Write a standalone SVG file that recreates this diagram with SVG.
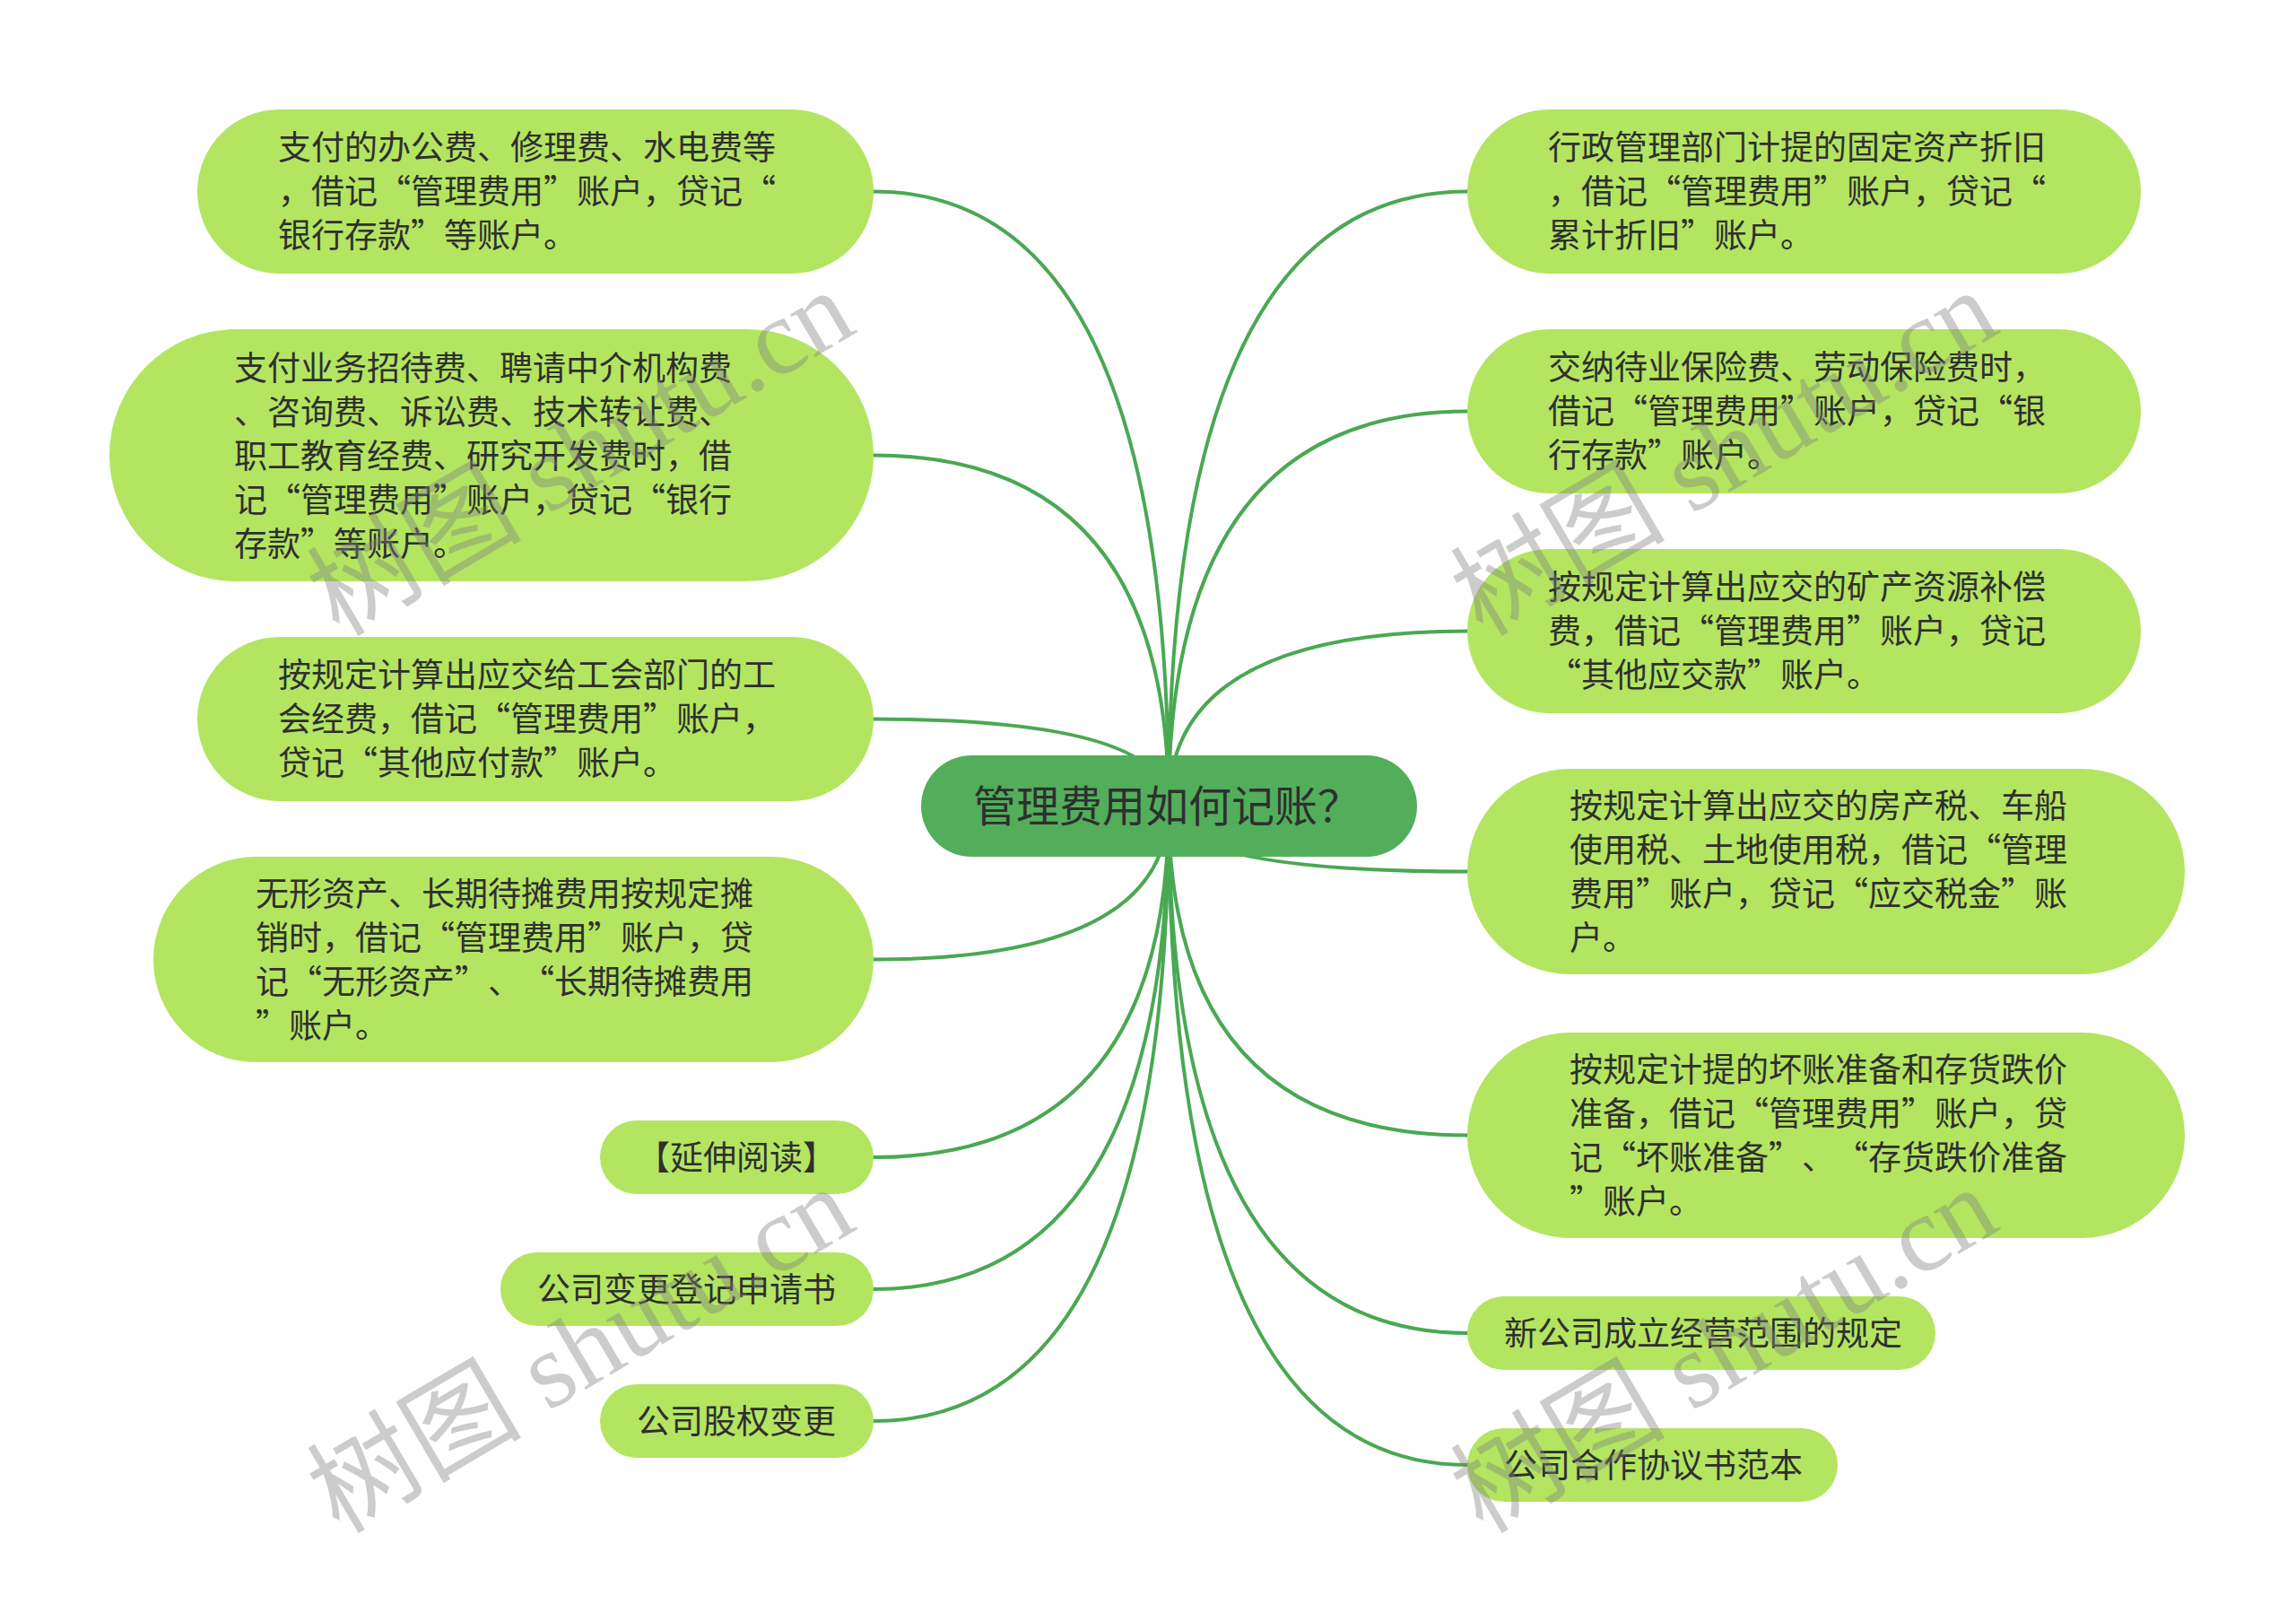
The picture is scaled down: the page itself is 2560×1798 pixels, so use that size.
<svg xmlns="http://www.w3.org/2000/svg" width="2560" height="1798" viewBox="0 0 2560 1798">
<style>
.bg{fill:#ffffff}
.link{fill:none;stroke:#4aa853;stroke-width:4;stroke-linecap:round}
.leaf{fill:#b3e561}
.root{fill:#52ae5b}
.t{font-family:"Noto Sans CJK SC","Noto Sans",sans-serif;font-size:37px;fill:#2f2f2f;text-spacing-trim:space-all;font-feature-settings:"halt" 0,"chws" 0}
.rt{font-family:"Noto Sans CJK SC","Noto Sans",sans-serif;font-size:48px;fill:#2f2f2f}
.wm{font-family:"Liberation Serif","Noto Sans CJK SC",serif;font-size:120px;fill:#808080;fill-opacity:0.4}
</style>
<rect class="bg" x="0" y="0" width="2560" height="1798"/>
<g id="connectors">
<path class="link" d="M1303 898 Q1303 213.5 974 213.5"/>
<path class="link" d="M1303 898 Q1303 507.5 974 507.5"/>
<path class="link" d="M1303 898 Q1303 801.5 974 801.5"/>
<path class="link" d="M1303 898 Q1303 1069.5 974 1069.5"/>
<path class="link" d="M1303 898 Q1303 1290 974 1290"/>
<path class="link" d="M1303 898 Q1303 1437 974 1437"/>
<path class="link" d="M1303 898 Q1303 1584 974 1584"/>
<path class="link" d="M1303 898 Q1303 213.5 1636 213.5"/>
<path class="link" d="M1303 898 Q1303 458.5 1636 458.5"/>
<path class="link" d="M1303 898 Q1303 703.5 1636 703.5"/>
<path class="link" d="M1303 898 Q1303 971.5 1636 971.5"/>
<path class="link" d="M1303 898 Q1303 1265.5 1636 1265.5"/>
<path class="link" d="M1303 898 Q1303 1486 1636 1486"/>
<path class="link" d="M1303 898 Q1303 1633 1636 1633"/>
</g>
<g id="root">
<rect class="root" x="1027" y="842" width="553" height="113" rx="56.5"/>
<text class="rt" x="1085" y="915.5">管理费用如何记账？</text>
</g>
<g id="L1">
<rect class="leaf" x="220" y="122" width="754" height="183" rx="91.5"/>
<text class="t"><tspan x="310" y="178">支付的办公费、修理费、水电费等</tspan><tspan x="310" y="227">，借记“管理费用”账户，贷记“</tspan><tspan x="310" y="276">银行存款”等账户。</tspan></text>
</g>
<g id="L2">
<rect class="leaf" x="122" y="367" width="852" height="281" rx="140.5"/>
<text class="t"><tspan x="261" y="423.5">支付业务招待费、聘请中介机构费</tspan><tspan x="261" y="472.5">、咨询费、诉讼费、技术转让费、</tspan><tspan x="261" y="521.5">职工教育经费、研究开发费时，借</tspan><tspan x="261" y="570.5">记“管理费用”账户，贷记“银行</tspan><tspan x="261" y="619.5">存款”等账户。</tspan></text>
</g>
<g id="L3">
<rect class="leaf" x="220" y="710" width="754" height="183" rx="91.5"/>
<text class="t"><tspan x="310" y="766">按规定计算出应交给工会部门的工</tspan><tspan x="310" y="815">会经费，借记“管理费用”账户，</tspan><tspan x="310" y="864">贷记“其他应付款”账户。</tspan></text>
</g>
<g id="L4">
<rect class="leaf" x="171" y="955" width="803" height="229" rx="114.5"/>
<text class="t"><tspan x="285" y="1010">无形资产、长期待摊费用按规定摊</tspan><tspan x="285" y="1059">销时，借记“管理费用”账户，贷</tspan><tspan x="285" y="1108">记“无形资产”、“长期待摊费用</tspan><tspan x="285" y="1157">”账户。</tspan></text>
</g>
<g id="L5">
<rect class="leaf" x="669" y="1249" width="305" height="82" rx="41"/>
<text class="t" x="710" y="1304">【延伸阅读】</text>
</g>
<g id="L6">
<rect class="leaf" x="558" y="1396" width="416" height="82" rx="41"/>
<text class="t" x="599" y="1451">公司变更登记申请书</text>
</g>
<g id="L7">
<rect class="leaf" x="669" y="1543" width="305" height="82" rx="41"/>
<text class="t" x="710" y="1598">公司股权变更</text>
</g>
<g id="R1">
<rect class="leaf" x="1636" y="122" width="751" height="183" rx="91.5"/>
<text class="t"><tspan x="1726" y="178">行政管理部门计提的固定资产折旧</tspan><tspan x="1726" y="227">，借记“管理费用”账户，贷记“</tspan><tspan x="1726" y="276">累计折旧”账户。</tspan></text>
</g>
<g id="R2">
<rect class="leaf" x="1636" y="367" width="751" height="183" rx="91.5"/>
<text class="t"><tspan x="1726" y="423">交纳待业保险费、劳动保险费时，</tspan><tspan x="1726" y="472">借记“管理费用”账户，贷记“银</tspan><tspan x="1726" y="521">行存款”账户。</tspan></text>
</g>
<g id="R3">
<rect class="leaf" x="1636" y="612" width="751" height="183" rx="91.5"/>
<text class="t"><tspan x="1726" y="668">按规定计算出应交的矿产资源补偿</tspan><tspan x="1726" y="717">费，借记“管理费用”账户，贷记</tspan><tspan x="1726" y="766">“其他应交款”账户。</tspan></text>
</g>
<g id="R4">
<rect class="leaf" x="1636" y="857" width="800" height="229" rx="114.5"/>
<text class="t"><tspan x="1750" y="912">按规定计算出应交的房产税、车船</tspan><tspan x="1750" y="961">使用税、土地使用税，借记“管理</tspan><tspan x="1750" y="1010">费用”账户，贷记“应交税金”账</tspan><tspan x="1750" y="1059">户。</tspan></text>
</g>
<g id="R5">
<rect class="leaf" x="1636" y="1151" width="800" height="229" rx="114.5"/>
<text class="t"><tspan x="1750" y="1206">按规定计提的坏账准备和存货跌价</tspan><tspan x="1750" y="1255">准备，借记“管理费用”账户，贷</tspan><tspan x="1750" y="1304">记“坏账准备”、“存货跌价准备</tspan><tspan x="1750" y="1353">”账户。</tspan></text>
</g>
<g id="R6">
<rect class="leaf" x="1636" y="1445" width="522" height="82" rx="41"/>
<text class="t" x="1677" y="1500">新公司成立经营范围的规定</text>
</g>
<g id="R7">
<rect class="leaf" x="1636" y="1592" width="413" height="82" rx="41"/>
<text class="t" x="1677" y="1647">公司合作协议书范本</text>
</g>
<g id="watermarks">
<text class="wm" text-anchor="middle" transform="translate(668 540) rotate(-30.5)">树图 shutu.cn</text>
<text class="wm" text-anchor="middle" transform="translate(1943 540) rotate(-30.5)">树图 shutu.cn</text>
<text class="wm" text-anchor="middle" transform="translate(668 1540) rotate(-30.5)">树图 shutu.cn</text>
<text class="wm" text-anchor="middle" transform="translate(1943 1540) rotate(-30.5)">树图 shutu.cn</text>
</g>
</svg>
